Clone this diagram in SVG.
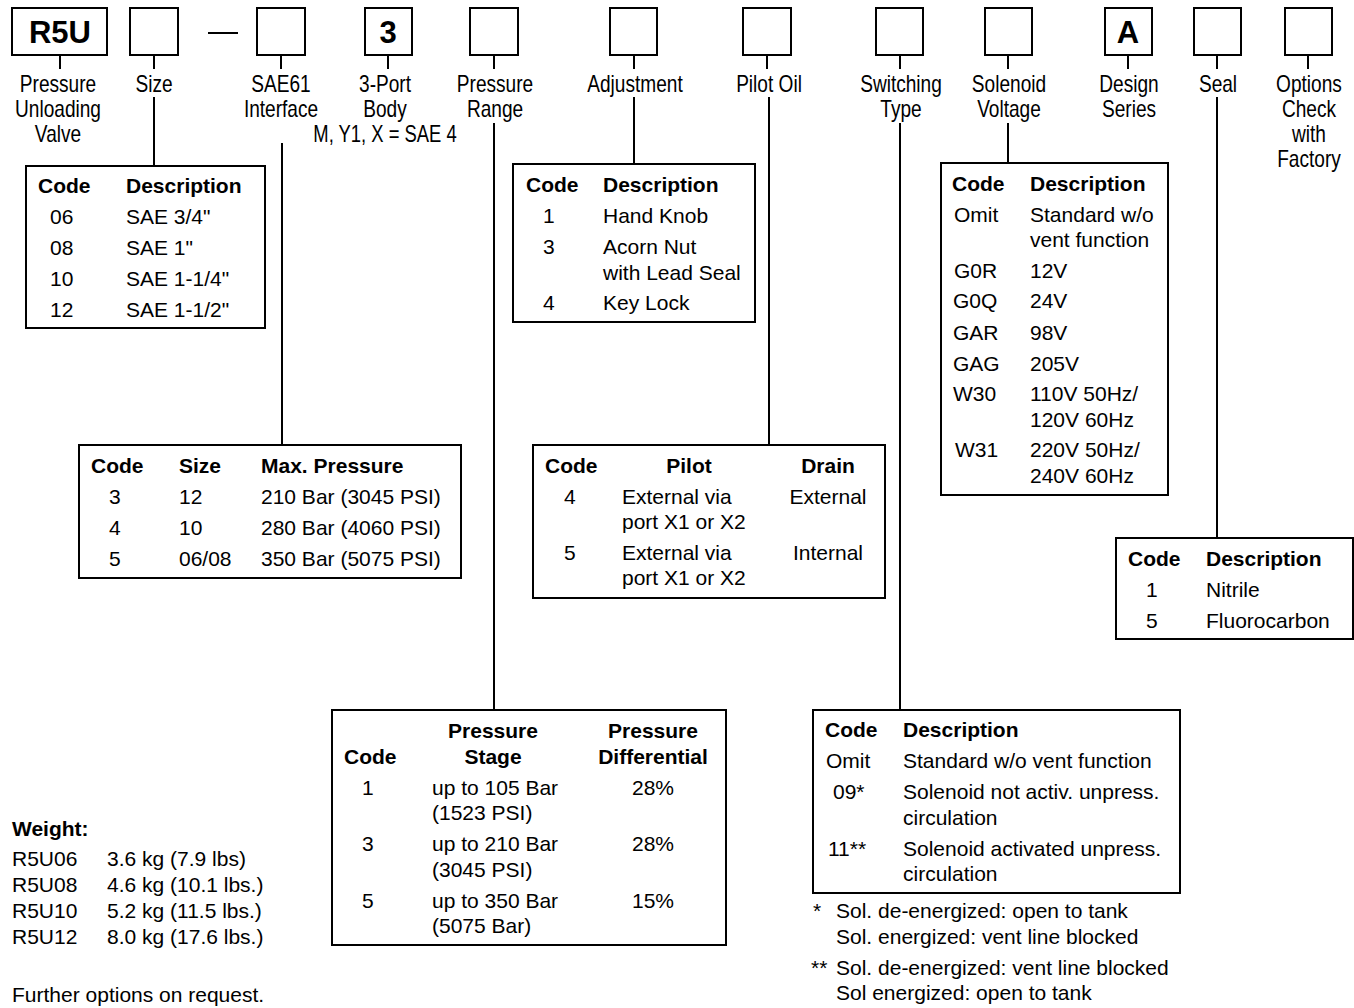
<svg xmlns="http://www.w3.org/2000/svg" width="1354" height="1008" viewBox="0 0 1354 1008">
<style>
.bx{fill:#fff;stroke:#000;stroke-width:2}
.ln{stroke:#000;stroke-width:2;fill:none}
.big{font-family:"Liberation Sans",Arial,sans-serif;font-weight:bold;font-size:31px;text-anchor:middle}
.hd{font-family:"Liberation Sans",Arial,sans-serif;font-size:23px;text-anchor:middle}
.t{font-family:"Liberation Sans",Arial,sans-serif;font-size:21px}
.b{font-weight:bold}
.m{text-anchor:middle}
</style>
<rect width="1354" height="1008" fill="#fff"/>

<g id="connectors">
<path class="ln" d="M60 55V69M154 55V69M281 55V69M388 55V69M494 55V69M634 55V69M767 55V69M900 55V69M1008 55V69M1128 55V69M1217 55V69M1308 55V69"/>
<path class="ln" d="M208 33H238"/>
<path class="ln" d="M154 97V166M282 143V445M494 123V710M634 97V164M769 97V445M900 123V710M1008 123V163M1217 97V538"/>
</g>

<g id="code-boxes">
<g id="box-r5u"><rect class="bx" x="12" y="8" width="95" height="47"/><text class="big" x="60" y="43">R5U</text></g>
<g id="box-size"><rect class="bx" x="130" y="8" width="48" height="47"/></g>
<g id="box-sae61"><rect class="bx" x="257" y="8" width="48" height="47"/></g>
<g id="box-body"><rect class="bx" x="365" y="8" width="47" height="47"/><text class="big" x="388" y="43">3</text></g>
<g id="box-range"><rect class="bx" x="470" y="8" width="48" height="47"/></g>
<g id="box-adj"><rect class="bx" x="610" y="8" width="47" height="47"/></g>
<g id="box-pilot"><rect class="bx" x="743" y="8" width="48" height="47"/></g>
<g id="box-switch"><rect class="bx" x="876" y="8" width="47" height="47"/></g>
<g id="box-sol"><rect class="bx" x="985" y="8" width="47" height="47"/></g>
<g id="box-design"><rect class="bx" x="1105" y="8" width="47" height="47"/><text class="big" x="1128" y="43">A</text></g>
<g id="box-seal"><rect class="bx" x="1194" y="8" width="47" height="47"/></g>
<g id="box-options"><rect class="bx" x="1285" y="8" width="47" height="47"/></g>
</g>

<g id="header-labels" class="hd">
<text transform="translate(58,92) scale(0.83,1)">Pressure</text>
<text transform="translate(58,117) scale(0.83,1)">Unloading</text>
<text transform="translate(58,142) scale(0.83,1)">Valve</text>
<text transform="translate(154,92) scale(0.83,1)">Size</text>
<text transform="translate(281,92) scale(0.83,1)">SAE61</text>
<text transform="translate(281,117) scale(0.83,1)">Interface</text>
<text transform="translate(385,92) scale(0.83,1)">3-Port</text>
<text transform="translate(385,117) scale(0.83,1)">Body</text>
<text transform="translate(385,142) scale(0.8,1)">M, Y1, X = SAE 4</text>
<text transform="translate(495,92) scale(0.83,1)">Pressure</text>
<text transform="translate(495,117) scale(0.83,1)">Range</text>
<text transform="translate(635,92) scale(0.83,1)">Adjustment</text>
<text transform="translate(769,92) scale(0.83,1)">Pilot Oil</text>
<text transform="translate(901,92) scale(0.83,1)">Switching</text>
<text transform="translate(901,117) scale(0.83,1)">Type</text>
<text transform="translate(1009,92) scale(0.83,1)">Solenoid</text>
<text transform="translate(1009,117) scale(0.83,1)">Voltage</text>
<text transform="translate(1129,92) scale(0.83,1)">Design</text>
<text transform="translate(1129,117) scale(0.83,1)">Series</text>
<text transform="translate(1218,92) scale(0.83,1)">Seal</text>
<text transform="translate(1309,92) scale(0.83,1)">Options</text>
<text transform="translate(1309,117) scale(0.83,1)">Check</text>
<text transform="translate(1309,142) scale(0.83,1)">with</text>
<text transform="translate(1309,167) scale(0.83,1)">Factory</text>
</g>

<g id="table-size" class="t">
<rect class="bx" x="26" y="166" width="239" height="162"/>
<text class="b" x="38" y="193">Code</text><text class="b" x="126" y="193">Description</text>
<text x="50" y="224">06</text><text x="126" y="224">SAE 3/4"</text>
<text x="50" y="255">08</text><text x="126" y="255">SAE 1"</text>
<text x="50" y="286">10</text><text x="126" y="286">SAE 1-1/4"</text>
<text x="50" y="317">12</text><text x="126" y="317">SAE 1-1/2"</text>
</g>

<g id="table-adjustment" class="t">
<rect class="bx" x="513" y="164" width="242" height="158"/>
<text class="b" x="526" y="192">Code</text><text class="b" x="603" y="192">Description</text>
<text x="543" y="223">1</text><text x="603" y="223">Hand Knob</text>
<text x="543" y="254">3</text><text x="603" y="254">Acorn Nut</text>
<text x="603" y="280">with Lead Seal</text>
<text x="543" y="310">4</text><text x="603" y="310">Key Lock</text>
</g>

<g id="table-solenoid" class="t">
<rect class="bx" x="941" y="163" width="227" height="332"/>
<text class="b" x="952" y="191">Code</text><text class="b" x="1030" y="191">Description</text>
<text x="954" y="222">Omit</text><text x="1030" y="222">Standard w/o</text>
<text x="1030" y="247">vent function</text>
<text x="954" y="278">G0R</text><text x="1030" y="278">12V</text>
<text x="953" y="308">G0Q</text><text x="1030" y="308">24V</text>
<text x="953" y="340">GAR</text><text x="1030" y="340">98V</text>
<text x="953" y="371">GAG</text><text x="1030" y="371">205V</text>
<text x="953" y="401">W30</text><text x="1030" y="401">110V 50Hz/</text>
<text x="1030" y="427">120V 60Hz</text>
<text x="955" y="457">W31</text><text x="1030" y="457">220V 50Hz/</text>
<text x="1030" y="483">240V 60Hz</text>
</g>

<g id="table-interface" class="t">
<rect class="bx" x="79" y="445" width="382" height="133"/>
<text class="b" x="91" y="473">Code</text><text class="b" x="179" y="473">Size</text><text class="b" x="261" y="473">Max. Pressure</text>
<text x="109" y="504">3</text><text x="179" y="504">12</text><text x="261" y="504">210 Bar (3045 PSI)</text>
<text x="109" y="535">4</text><text x="179" y="535">10</text><text x="261" y="535">280 Bar (4060 PSI)</text>
<text x="109" y="566">5</text><text x="179" y="566">06/08</text><text x="261" y="566">350 Bar (5075 PSI)</text>
</g>

<g id="table-pilot" class="t">
<rect class="bx" x="533" y="445" width="352" height="153"/>
<text class="b" x="545" y="473">Code</text><text class="b m" x="689" y="473">Pilot</text><text class="b m" x="828" y="473">Drain</text>
<text x="564" y="504">4</text><text x="622" y="504">External via</text><text class="m" x="828" y="504">External</text>
<text x="622" y="529">port X1 or X2</text>
<text x="564" y="560">5</text><text x="622" y="560">External via</text><text class="m" x="828" y="560">Internal</text>
<text x="622" y="585">port X1 or X2</text>
</g>

<g id="table-seal" class="t">
<rect class="bx" x="1116" y="538" width="237" height="101"/>
<text class="b" x="1128" y="566">Code</text><text class="b" x="1206" y="566">Description</text>
<text x="1146" y="597">1</text><text x="1206" y="597">Nitrile</text>
<text x="1146" y="628">5</text><text x="1206" y="628">Fluorocarbon</text>
</g>

<g id="table-range" class="t">
<rect class="bx" x="332" y="710" width="394" height="235"/>
<text class="b m" x="493" y="738">Pressure</text><text class="b m" x="653" y="738">Pressure</text>
<text class="b" x="344" y="764">Code</text><text class="b m" x="493" y="764">Stage</text><text class="b m" x="653" y="764">Differential</text>
<text x="362" y="795">1</text><text x="432" y="795">up to 105 Bar</text><text class="m" x="653" y="795">28%</text>
<text x="432" y="820">(1523 PSI)</text>
<text x="362" y="851">3</text><text x="432" y="851">up to 210 Bar</text><text class="m" x="653" y="851">28%</text>
<text x="432" y="877">(3045 PSI)</text>
<text x="362" y="908">5</text><text x="432" y="908">up to 350 Bar</text><text class="m" x="653" y="908">15%</text>
<text x="432" y="933">(5075 Bar)</text>
</g>

<g id="table-switching" class="t">
<rect class="bx" x="813" y="710" width="367" height="183"/>
<text class="b" x="825" y="737">Code</text><text class="b" x="903" y="737">Description</text>
<text x="826" y="768">Omit</text><text x="903" y="768">Standard w/o vent function</text>
<text x="833" y="799">09*</text><text x="903" y="799">Solenoid not activ. unpress.</text>
<text x="903" y="825">circulation</text>
<text x="828" y="856">11**</text><text x="903" y="856">Solenoid activated unpress.</text>
<text x="903" y="881">circulation</text>
</g>

<g id="footnotes" class="t">
<text x="813" y="918">*</text><text x="836" y="918">Sol. de-energized: open to tank</text>
<text x="836" y="944">Sol. energized: vent line blocked</text>
<text x="811" y="975">**</text><text x="836" y="975">Sol. de-energized: vent line blocked</text>
<text x="836" y="1000">Sol energized: open to tank</text>
</g>

<g id="weight" class="t">
<text class="b" x="12" y="836">Weight:</text>
<text x="12" y="866">R5U06</text><text x="107" y="866">3.6 kg (7.9 lbs)</text>
<text x="12" y="892">R5U08</text><text x="107" y="892">4.6 kg (10.1 lbs.)</text>
<text x="12" y="918">R5U10</text><text x="107" y="918">5.2 kg (11.5 lbs.)</text>
<text x="12" y="944">R5U12</text><text x="107" y="944">8.0 kg (17.6 lbs.)</text>
<text x="12" y="1002">Further options on request.</text>
</g>
</svg>
